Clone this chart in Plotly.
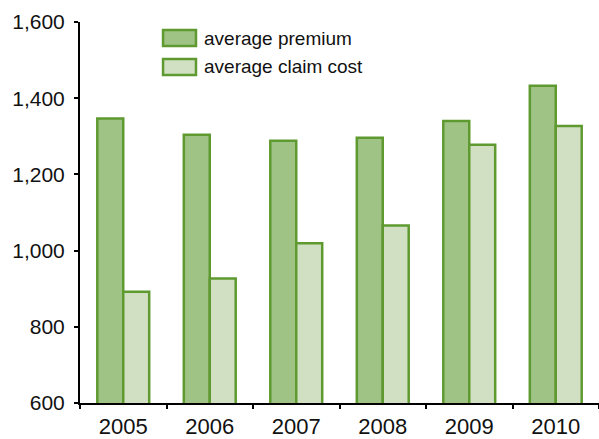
import plotly.graph_objects as go

years = ["2005", "2006", "2007", "2008", "2009", "2010"]
avg_premium = [1347, 1304, 1288, 1296, 1340, 1433]
avg_claim_cost = [892, 927, 1019, 1066, 1278, 1327]
series_names = ["average premium", "average claim cost"]
y_ticks = [600, 800, 1000, 1200, 1400, 1600]

border = "#5F9A30"
fill_premium = "#9EC385"
fill_claim = "#D1E0C3"
font_family = "Liberation Sans, Arial, sans-serif"

fig = go.Figure()
fig.add_trace(go.Bar(x=years, y=avg_premium, name=series_names[0],
                     marker=dict(color=fill_premium, line=dict(color=border, width=2.5))))
fig.add_trace(go.Bar(x=years, y=avg_claim_cost, name=series_names[1],
                     marker=dict(color=fill_claim, line=dict(color=border, width=2.5))))

# custom legend (large swatches)
legend_y = [0.958, 0.882]
fills = [fill_premium, fill_claim]
for i, nm in enumerate(series_names):
    fig.add_shape(type="rect", xref="paper", yref="paper",
                  x0=0.160, x1=0.2235, y0=legend_y[i] - 0.021, y1=legend_y[i] + 0.021,
                  fillcolor=fills[i], line=dict(color=border, width=2.5))
    fig.add_annotation(x=0.235, y=legend_y[i], xref="paper", yref="paper",
                       text=nm, showarrow=False, xanchor="left", yanchor="middle",
                       font=dict(size=19, color="#111111", family=font_family))

fig.update_layout(
    width=599, height=439,
    margin=dict(l=80, r=0, t=22, b=36),
    paper_bgcolor="white", plot_bgcolor="white",
    barmode="group", bargap=0.4, bargroupgap=0,
    showlegend=False,
    font=dict(family=font_family, size=20, color="#111111"),
)
fig.update_xaxes(type="category", showline=True, linecolor="black", linewidth=2,
                 ticks="outside", tickson="boundaries", ticklen=4, tickwidth=2,
                 tickcolor="black", showgrid=False, ticklabelstandoff=3,
                 tickfont=dict(size=22, family=font_family))
fig.update_yaxes(range=[600, 1600], tickvals=y_ticks, tickformat=",",
                 showline=True, linecolor="black", linewidth=2,
                 ticks="outside", ticklen=4, tickwidth=2, tickcolor="black",
                 showgrid=False, zeroline=False, ticklabelstandoff=5,
                 tickfont=dict(size=21, family=font_family))

fig.write_html("out.html", config={"displayModeBar": False},
               post_script="document.body.style.margin='0';document.body.style.overflow='hidden';")
